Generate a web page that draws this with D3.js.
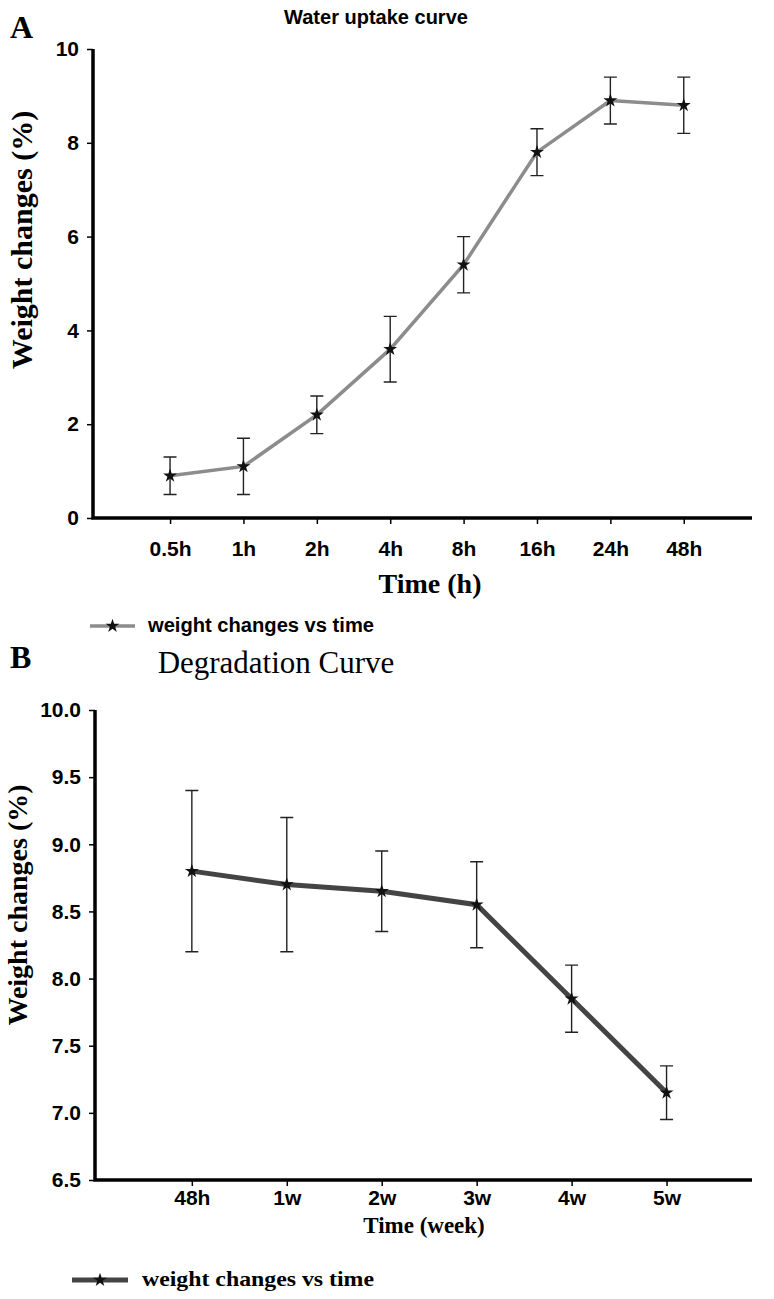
<!DOCTYPE html>
<html><head><meta charset="utf-8">
<script src="https://cdn.jsdelivr.net/npm/d3@7"></script>
<style>body{margin:0;background:#fff}</style>
</head><body><svg id="c" width="774" height="1299"></svg>
<script>
// ---- Panel A data ----
const catsA = ["0.5h","1h","2h","4h","8h","16h","24h","48h"];
const meanA = [0.9, 1.1, 2.2, 3.6, 5.4, 7.8, 8.9, 8.8];
const errA  = [0.4, 0.6, 0.4, 0.7, 0.6, 0.5, 0.5, 0.6];
const yTicksA = [0, 2, 4, 6, 8, 10];
// ---- Panel B data ----
const catsB = ["48h","1w","2w","3w","4w","5w"];
const meanB = [8.8, 8.7, 8.65, 8.55, 7.85, 7.15];
const errB  = [0.6, 0.5, 0.3, 0.32, 0.25, 0.2];
const yTicksB = [6.5, 7.0, 7.5, 8.0, 8.5, 9.0, 9.5, 10.0];

const svg = d3.select("#c");
const SANS = "'Liberation Sans', Arial, sans-serif";
const SERIF = "'Liberation Serif', 'Times New Roman', serif";

function panel(o) {
  const g = svg.append("g");
  const x = d3.scaleLinear().domain(o.xDom).range([o.left, o.right]);
  const y = d3.scaleLinear().domain(o.yDom).range([o.bottom, o.top]);

  // y axis
  const ya = g.append("g").attr("transform", `translate(${o.left},0)`)
    .call(d3.axisLeft(y).tickValues(o.yTicks).tickSize(6).tickPadding(o.yPad).tickFormat(o.yFmt));
  ya.select(".domain").remove();
  ya.selectAll(".tick line").attr("stroke", "#000").attr("stroke-width", 1.5);
  ya.selectAll(".tick text").attr("font-family", SANS).attr("font-weight", "bold")
    .attr("font-size", o.tickFont).attr("fill", "#000");

  // x axis
  const xa = g.append("g").attr("transform", `translate(0,${o.bottom})`)
    .call(d3.axisBottom(x).tickValues(d3.range(o.cats.length)).tickSize(6).tickPadding(o.xPad)
      .tickFormat(i => o.cats[i]));
  xa.select(".domain").remove();
  xa.selectAll(".tick line").attr("stroke", "#000").attr("stroke-width", 1.5);
  xa.selectAll(".tick text").attr("font-family", SANS).attr("font-weight", "bold")
    .attr("font-size", o.tickFont).attr("fill", "#000");

  // thick axis lines
  g.append("path").attr("d", `M${o.left},${y(o.yDom[1])}V${o.bottom}H${o.right}`)
    .attr("fill", "none").attr("stroke", "#000").attr("stroke-width", 3.5);

  const idx = d3.range(o.mean.length);
  // error bars
  const eb = g.append("g").attr("stroke", "#222").attr("stroke-width", 1.4).attr("fill", "none");
  idx.forEach(i => {
    const cx = x(i), t = y(o.mean[i] + o.err[i]), b = y(o.mean[i] - o.err[i]);
    eb.append("path").attr("d", `M${cx},${t}V${b}M${cx-6.5},${t}H${cx+6.5}M${cx-6.5},${b}H${cx+6.5}`);
  });
  // line
  g.append("path").datum(idx)
    .attr("d", d3.line().x(i => x(i)).y(i => y(o.mean[i])))
    .attr("fill", "none").attr("stroke", o.lineColor).attr("stroke-width", o.lineW);
  // markers
  g.selectAll("path.star").data(idx).join("path").attr("class", "star")
    .attr("transform", i => `translate(${x(i)},${y(o.mean[i])})`)
    .attr("d", d3.symbol(d3.symbolStar, 60)).attr("fill", "#111");

  // legend
  const lg = g.append("g");
  lg.append("line").attr("x1", o.legX1).attr("x2", o.legX2).attr("y1", o.legY).attr("y2", o.legY)
    .attr("stroke", o.lineColor).attr("stroke-width", o.lineW);
  lg.append("path").attr("transform", `translate(${(o.legX1+o.legX2)/2},${o.legY})`)
    .attr("d", d3.symbol(d3.symbolStar, 60)).attr("fill", "#111");
  lg.append("text").attr("x", o.legTX).attr("y", o.legY + 6).text("weight changes vs time")
    .attr("font-family", o.legFontFam).attr("font-weight", "bold").attr("font-size", o.legFont)
    .attr("textLength", o.legLen).attr("lengthAdjust", "spacingAndGlyphs");
  return {x, y};
}

// Panel A
panel({
  cats: catsA, mean: meanA, err: errA, yTicks: yTicksA, yFmt: d3.format("d"),
  xDom: [-1.05, 7.93], yDom: [0, 10], left: 93, right: 752, top: 49, bottom: 518,
  yPad: 8, xPad: 17, tickFont: 21,
  lineColor: "#8c8c8c", lineW: 3.5,
  legX1: 90, legX2: 135, legY: 626, legTX: 148, legFont: 20, legFontFam: SANS, legLen: 226
});
// Panel B
panel({
  cats: catsB, mean: meanB, err: errB, yTicks: yTicksB, yFmt: d3.format(".1f"),
  xDom: [-1.02, 5.9], yDom: [6.5, 10], left: 95, right: 752, top: 710, bottom: 1180,
  yPad: 8, xPad: 4, tickFont: 21,
  lineColor: "#444", lineW: 5,
  legX1: 72, legX2: 128, legY: 1280, legTX: 142, legFont: 22, legFontFam: SERIF, legLen: 232
});

// titles & labels
svg.append("text").attr("x", 10).attr("y", 38).text("A")
  .attr("font-family", SERIF).attr("font-weight", "bold").attr("font-size", 32);
svg.append("text").attr("x", 376).attr("y", 24).attr("text-anchor", "middle").text("Water uptake curve")
  .attr("font-family", SANS).attr("font-weight", "bold").attr("font-size", 20);
svg.append("text").attr("x", 430).attr("y", 593).attr("text-anchor", "middle").text("Time (h)")
  .attr("font-family", SERIF).attr("font-weight", "bold").attr("font-size", 28);
svg.append("text").attr("transform", "translate(32,240) rotate(-90)").attr("text-anchor", "middle")
  .text("Weight changes (%)").attr("font-family", SERIF).attr("font-weight", "bold").attr("font-size", 30);

svg.append("text").attr("x", 10).attr("y", 668).text("B")
  .attr("font-family", SERIF).attr("font-weight", "bold").attr("font-size", 32);
svg.append("text").attr("x", 276).attr("y", 673).attr("text-anchor", "middle").text("Degradation Curve")
  .attr("font-family", SERIF).attr("font-size", 31);
svg.append("text").attr("x", 424).attr("y", 1233).attr("text-anchor", "middle").text("Time (week)")
  .attr("font-family", SERIF).attr("font-weight", "bold").attr("font-size", 23);
svg.append("text").attr("transform", "translate(27,905) rotate(-90)").attr("text-anchor", "middle")
  .text("Weight changes (%)").attr("font-family", SERIF).attr("font-weight", "bold").attr("font-size", 28);
</script></body></html>
